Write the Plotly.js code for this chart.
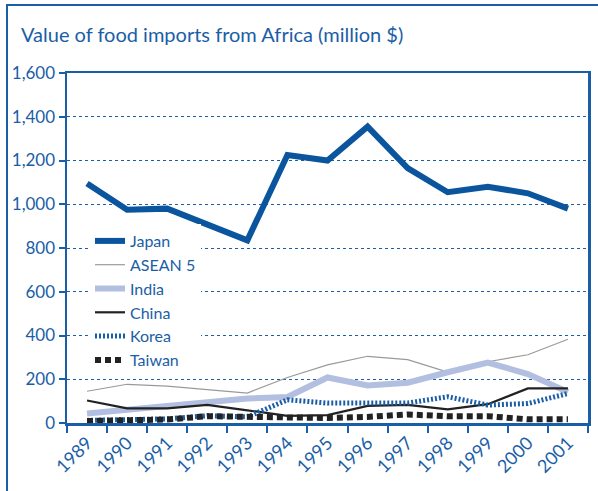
<!DOCTYPE html>
<html>
<head>
<meta charset="utf-8">
<script src="https://cdn.plot.ly/plotly-3.0.1.min.js"></script>
<style>
  html, body { margin: 0; padding: 0; background: #ffffff; }
  #chart { width: 598px; height: 491px; }
</style>
</head>
<body>
<div id="chart"></div>
<script>
const years = ["1989","1990","1991","1992","1993","1994","1995","1996","1997","1998","1999","2000","2001"];
const japan  = [1095, 975, 980, 905, 835, 1225, 1200, 1355, 1165, 1055, 1080, 1050, 980];
const asean5 = [145, 177, 169, 153, 137, 208, 266, 305, 290, 233, 280, 312, 383];
const india  = [43, 60, 72, 91, 112, 119, 208, 172, 184, 232, 276, 224, 142];
const china  = [103, 67, 67, 83, 58, 33, 36, 78, 83, 62, 86, 158, 158];
const korea  = [12, 16, 19, 33, 28, 106, 91, 91, 91, 120, 82, 89, 135];
const taiwan = [9, 12, 16, 31, 28, 23, 23, 28, 39, 31, 31, 17, 17];
const yTicks = [0, 200, 400, 600, 800, 1000, 1200, 1400, 1600];

const BLUE = "#1a5ea6";
const FONT = "Lato, 'Open Sans', sans-serif";

const traces = [
  {name: "ASEAN 5", y: asean5, line: {color: "#9a9a9a", width: 1.2}, legendrank: 2},
  {name: "India",   y: india,  line: {color: "#b3bfe0", width: 6}, legendrank: 3},
  {name: "China",   y: china,  line: {color: "#222222", width: 2.2}, legendrank: 4},
  {name: "Korea",   y: korea,  line: {color: "#1a5ea6", width: 5, dash: "2px,2px"}, legendrank: 5},
  {name: "Taiwan",  y: taiwan, line: {color: "#222222", width: 6, dash: "6px,4px"}, legendrank: 6},
  {name: "Japan",   y: japan,  line: {color: "#0b559e", width: 6}, legendrank: 1}
].map(t => Object.assign({type: "scatter", mode: "lines", x: years, hoverinfo: "skip"}, t));

// plot area in px: x 67..588, y 73..423
const L = 67, R = 588, T = 73, B = 423;
const pw = R - L, ph = B - T;

const layout = {
  width: 598, height: 491,
  margin: {l: L, r: 598 - R, t: T, b: 491 - B},
  paper_bgcolor: "#ffffff",
  plot_bgcolor: "#ffffff",
  font: {family: FONT, color: BLUE, size: 16},
  title: {
    text: "Value of food imports from Africa (million $)",
    font: {family: FONT, size: 20, color: BLUE},
    xref: "container", yref: "container",
    x: 21 / 598, xanchor: "left",
    y: 1 - 35 / 491, yanchor: "middle"
  },
  xaxis: {
    type: "category",
    range: [-0.5, years.length - 0.5],
    tickson: "boundaries",
    ticks: "outside", ticklen: 7, tickwidth: 2, tickcolor: BLUE,
    tickangle: -45,
    tickfont: {family: FONT, size: 18, color: BLUE},
    showline: true, linecolor: BLUE, linewidth: 2.5, mirror: true,
    showgrid: false, zeroline: false,
    fixedrange: true
  },
  yaxis: {
    range: [0, 1600],
    tickvals: yTicks,
    tickformat: ",",
    ticks: "outside", ticklen: 6, tickwidth: 2, tickcolor: BLUE,
    tickfont: {family: FONT, size: 17, color: BLUE},
    showline: true, linecolor: BLUE, linewidth: 2.5, mirror: true,
    showgrid: true, gridcolor: BLUE, gridwidth: 1, griddash: "dot",
    zeroline: false,
    fixedrange: true
  },
  legend: {
    x: (90 - L) / pw, xanchor: "left",
    y: (B - 224) / ph, yanchor: "top",
    bgcolor: "#ffffff",
    borderwidth: 0,
    font: {family: FONT, size: 16, color: BLUE},
    traceorder: "normal",
    tracegroupgap: 0
  },
  shapes: [{
    type: "rect", xref: "paper", yref: "paper",
    x0: (7 - L) / pw, x1: (620 - L) / pw,
    y0: (B - 520) / ph, y1: (B - 5) / ph,
    line: {color: BLUE, width: 2}, fillcolor: "rgba(0,0,0,0)",
    layer: "below"
  }],
  showlegend: true
};

Plotly.newPlot("chart", traces, layout, {displayModeBar: false, staticPlot: true});
</script>
</body>
</html>
